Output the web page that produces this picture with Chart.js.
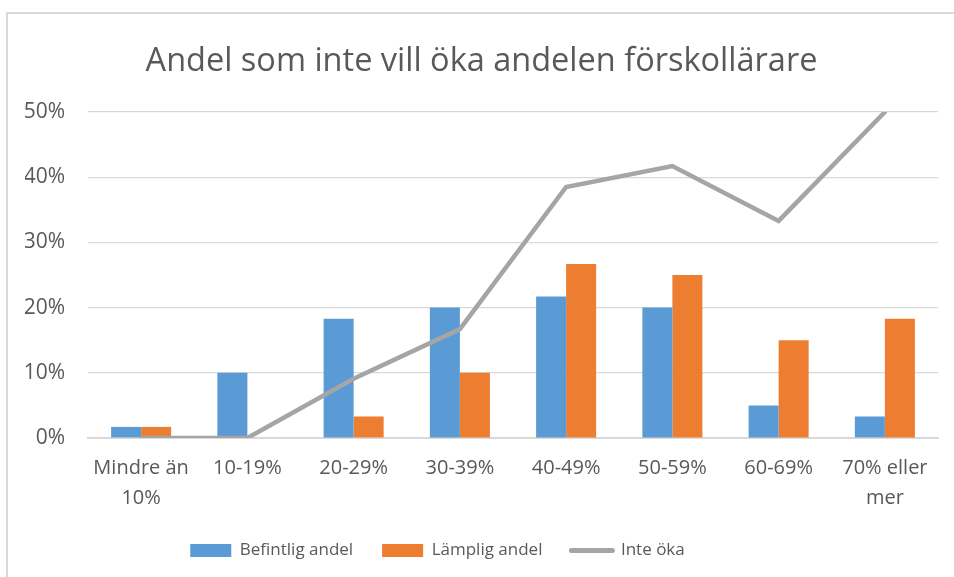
<!DOCTYPE html>
<html>
<head>
<meta charset="utf-8">
<script src="https://cdn.jsdelivr.net/npm/chart.js@4.4.1/dist/chart.umd.min.js"></script>
<style>
  html, body { margin: 0; padding: 0; background: #fff; }
  #wrap { position: relative; width: 954px; height: 577px; overflow: hidden; }
  #frame { position: absolute; left: 6px; top: 12px; width: 1000px; height: 700px;
           border-left: 2px solid #d9d9d9; border-top: 2px solid #d9d9d9; }
  canvas { position: absolute; left: 0; top: 0; }
</style>
</head>
<body>
<div id="wrap">
  <div id="frame"></div>
  <canvas id="andel" width="954" height="577"></canvas>
</div>
<script>
const categories = [['Mindre än', '10%'], '10-19%', '20-29%', '30-39%', '40-49%', '50-59%', '60-69%', ['70% eller', 'mer']];
const befintlig = [1.7, 10, 18.3, 20, 21.7, 20, 5, 3.3];
const lamplig = [1.7, 0, 3.3, 10, 26.7, 25, 15, 18.3];
const inteOka = [0, 0, 9.1, 16.7, 38.5, 41.7, 33.3, 50];
const yTicks = [0, 10, 20, 30, 40, 50];

const textColor = '#595959';
const fontFamily = '"Open Sans", sans-serif';

// nudge the legend to where the original sits (a bit left, a bit higher)
const legendNudge = {
  id: 'legendNudge',
  afterLayout(chart) {
    const lg = chart.legend;
    lg.left -= 44; lg.right -= 44;
    lg.top -= 15; lg.bottom -= 15;
  }
};

const ctx = document.getElementById('andel').getContext('2d');

new Chart(ctx, {
  type: 'bar',
  data: {
    labels: categories,
    datasets: [{
      label: 'Befintlig andel',
      data: befintlig,
      backgroundColor: '#5b9bd5',
      order: 1
    }, {
      label: 'Lämplig andel',
      data: lamplig,
      backgroundColor: '#ed7d31',
      order: 2
    }, {
      type: 'line',
      label: 'Inte öka',
      data: inteOka,
      borderColor: '#a5a5a5',
      backgroundColor: '#a5a5a5',
      borderWidth: 4.5,
      borderCapStyle: 'round',
      pointRadius: 0,
      tension: 0,
      order: 0
    }]
  },
  plugins: [legendNudge],
  options: {
    responsive: false,
    animation: false,
    layout: { padding: { left: 25, right: 16, top: 20, bottom: -7 } },
    datasets: {
      bar: { categoryPercentage: 0.565, barPercentage: 1 }
    },
    scales: {
      x: {
        grid: { display: false, drawTicks: false },
        border: { color: '#d9d9d9', width: 2 },
        afterFit: (scale) => { scale.paddingLeft = 0; scale.paddingRight = 0; },
        ticks: {
          color: textColor,
          maxRotation: 0,
          autoSkip: false,
          padding: 15,
          font: { family: fontFamily, size: 20, lineHeight: 1.5 }
        }
      },
      y: {
        min: 0,
        max: 50,
        afterBuildTicks: (axis) => { axis.ticks = yTicks.map(v => ({ value: v })); },
        afterFit: (scale) => { scale.width = 63; },
        grid: { color: '#d9d9d9', lineWidth: 1.2, drawTicks: false },
        border: { display: false },
        ticks: {
          color: textColor,
          padding: 23,
          font: { family: fontFamily, size: 21 },
          callback: (v) => v + '%'
        }
      }
    },
    plugins: {
      title: {
        display: true,
        text: 'Andel som inte vill öka andelen förskollärare',
        color: textColor,
        font: { family: fontFamily, size: 32.5, weight: 'normal' },
        padding: { top: 22, bottom: 31 }
      },
      legend: {
        position: 'bottom',
        labels: {
          color: textColor,
          font: { family: fontFamily, size: 17 },
          usePointStyle: true,
          pointStyleWidth: 41,
          boxHeight: 13,
          padding: 29,
          sort: (a, b) => a.datasetIndex - b.datasetIndex,
          generateLabels: (chart) => {
            const items = Chart.defaults.plugins.legend.labels.generateLabels(chart);
            items.forEach(item => {
              const ds = chart.data.datasets[item.datasetIndex];
              if (ds.type === 'line') {
                item.pointStyle = 'line';
                item.lineWidth = 5;
                item.lineCap = 'round';
              } else {
                item.pointStyle = 'rect';
                item.lineWidth = 0;
              }
            });
            return items;
          }
        }
      },
      tooltip: { enabled: false }
    }
  }
});
</script>
</body>
</html>
